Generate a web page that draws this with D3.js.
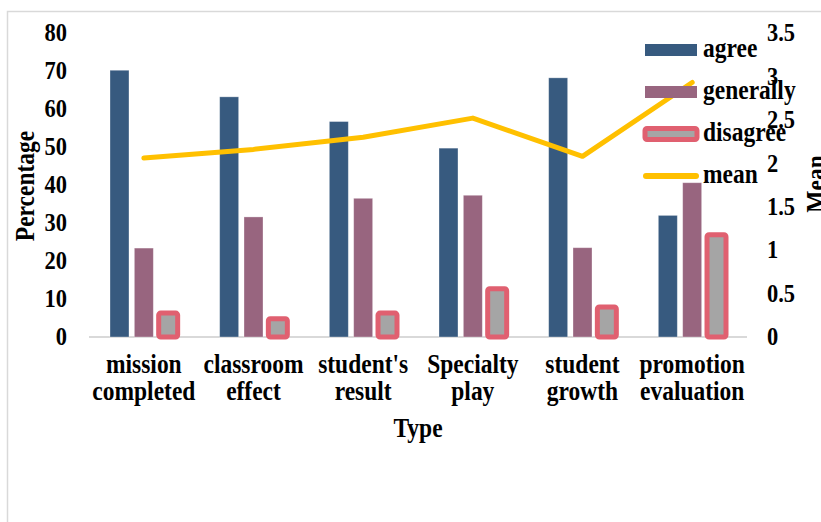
<!DOCTYPE html>
<html><head><meta charset="utf-8">
<script src="https://cdn.jsdelivr.net/npm/d3@7"></script>
<style>html,body{margin:0;padding:0;background:#fff;overflow:hidden}</style>
</head><body>
<svg id="c" width="821" height="522"></svg>
<script>
const categories = [["mission","completed"],["classroom","effect"],["student's","result"],["Specialty","play"],["student","growth"],["promotion","evaluation"]];
const catKeys = categories.map(d => d.join(" "));
const series = ["agree","generally","disagree"];
const agree = [70.2, 63.2, 56.7, 49.7, 68.2, 32.0];
const generally = [23.4, 31.6, 36.5, 37.3, 23.5, 40.6];
const disagree = [6.3, 4.8, 6.3, 12.7, 7.9, 26.9];
const mean = [2.06, 2.16, 2.30, 2.52, 2.08, 2.93];
const leftTicks = [0,10,20,30,40,50,60,70,80];
const rightTicks = [0,0.5,1,1.5,2,2.5,3,3.5];

const svg = d3.select("#c");
const FONT = "'Liberation Serif','Times New Roman',serif";
const FS = 23.5;
const TFS = 22.5;
const SY = 1.12;
const colors = {agree:"#375a7f", generally:"#98657f", disagreeFill:"#a5a5a5", disagreeStroke:"#e06070", mean:"#ffc000"};

function txt(parent, x, y, s, opts) {
  opts = opts || {};
  const g = parent.append("g").attr("transform", `translate(${x},${y})` + (opts.rotate ? ` rotate(${opts.rotate})` : "") + ` scale(1,${SY})`);
  return g.append("text").attr("x",0).attr("y",0)
    .attr("text-anchor", opts.anchor || "start")
    .attr("font-family",FONT).attr("font-weight","bold").attr("font-size", opts.size || FS).attr("fill","#000").text(s);
}

// frame
svg.append("path").attr("d","M7.5,522V11.5H821").attr("fill","none").attr("stroke","#d9d9d9").attr("stroke-width",1.5);

const x0 = d3.scaleBand().domain(catKeys).range([89,747]).padding(0);
const x1 = d3.scaleBand().domain(series).range([21, x0.bandwidth()-21]).paddingInner(0.22).paddingOuter(0);
const yL = d3.scaleLinear().domain([0,80]).range([337,33]);
const yR = d3.scaleLinear().domain([0,3.5]).range([337,33]);

// axis baseline
svg.append("line").attr("x1",89).attr("x2",747).attr("y1",yL(0)).attr("y2",yL(0)).attr("stroke","#d9d9d9").attr("stroke-width",2);

const vals = {agree, generally, disagree};
const g = svg.append("g");
catKeys.forEach((c,i) => {
  series.forEach(s => {
    const v = vals[s][i];
    const r = g.append("rect")
      .attr("x", x0(c)+x1(s)).attr("width", x1.bandwidth())
      .attr("y", yL(v)).attr("height", yL(0)-yL(v));
    if (s === "disagree") {
      r.attr("fill", colors.disagreeFill).attr("stroke", colors.disagreeStroke).attr("stroke-width",5).attr("rx",2);
    } else {
      r.attr("fill", colors[s]).attr("stroke","#ffffff").attr("stroke-opacity",0.4).attr("stroke-width",0.8);
    }
  });
});

// mean line
const line = d3.line().x((d,i) => x0(catKeys[i]) + x0.bandwidth()/2).y(d => yR(d));
svg.append("path").datum(mean).attr("d", line).attr("fill","none")
  .attr("stroke", colors.mean).attr("stroke-width",5).attr("stroke-linecap","round").attr("stroke-linejoin","round");

// left axis
const la = d3.axisLeft(yL).tickValues(leftTicks).tickSize(0).tickPadding(0).tickFormat(d3.format("d"));
const lg = svg.append("g").attr("transform","translate(67,0)").call(la);
lg.select(".domain").remove();
lg.selectAll("text").attr("font-family",FONT).attr("font-weight","bold").attr("font-size",TFS).attr("fill","#000")
  .attr("dy","0.31em").attr("transform",`scale(1,${SY})`);

// right axis
const ra = d3.axisRight(yR).tickValues(rightTicks).tickSize(0).tickPadding(0).tickFormat(d => d3.format("")(d));
const rg = svg.append("g").attr("transform","translate(767,0)").call(ra);
rg.select(".domain").remove();
rg.selectAll("text").attr("font-family",FONT).attr("font-weight","bold").attr("font-size",TFS).attr("fill","#000")
  .attr("dy","0.31em").attr("transform",`scale(1,${SY})`);

// category labels
const cl = svg.append("g");
categories.forEach((lines,i) => {
  const cx = x0(catKeys[i]) + x0.bandwidth()/2;
  lines.forEach((l,j) => txt(cl, cx, 373 + j*27, l, {anchor:"middle"}));
});

// axis titles
txt(svg, 418, 437, "Type", {anchor:"middle"});
txt(svg, 34, 186, "Percentage", {anchor:"middle", rotate:-90});
txt(svg, 825, 184, "Mean", {anchor:"middle", rotate:-90});

// legend
const legendItems = ["agree","generally","disagree","mean"];
const lgd = svg.append("g");
legendItems.forEach((k,i) => {
  const cy = 50 + i*42;
  if (k === "mean") {
    lgd.append("line").attr("x1",646).attr("x2",696).attr("y1",cy).attr("y2",cy)
      .attr("stroke",colors.mean).attr("stroke-width",6).attr("stroke-linecap","round");
  } else if (k === "disagree") {
    lgd.append("rect").attr("x",645).attr("y",cy-5.5).attr("width",52).attr("height",11).attr("rx",2)
      .attr("fill",colors.disagreeFill).attr("stroke",colors.disagreeStroke).attr("stroke-width",5);
  } else {
    lgd.append("rect").attr("x",645).attr("y",cy-6).attr("width",52).attr("height",12).attr("fill",colors[k]);
  }
  txt(lgd, 703, cy+7, k);
});
</script>
</body></html>
